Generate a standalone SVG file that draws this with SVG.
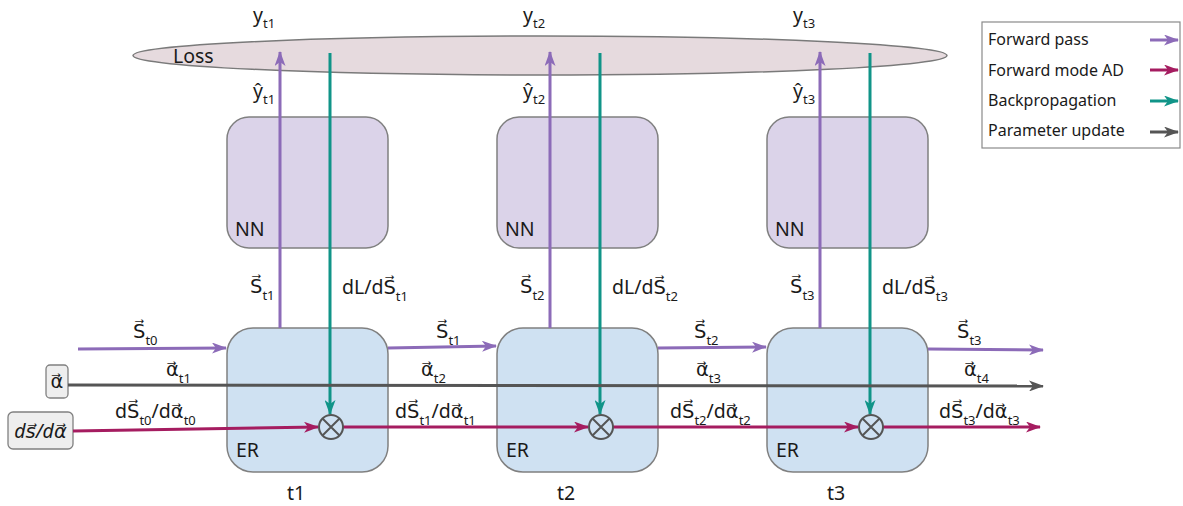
<svg xmlns="http://www.w3.org/2000/svg" width="1183" height="506" viewBox="0 0 1183 506">
<style>
text{font-family:"Noto Sans","DejaVu Sans",sans-serif;fill:#1a1a1a}
.lab{font-size:19.5px}
.sub{font-size:13px}
.leg{font-size:16px}
.nn{fill:#dbd3e9;stroke:#808080;stroke-width:1.5}
.er{fill:#cfe1f2;stroke:#808080;stroke-width:1.5}
.fp{stroke:#8c6bb8;stroke-width:3;fill:none;marker-end:url(#mp)}
.ad{stroke:#a51c60;stroke-width:3;fill:none;marker-end:url(#mm)}
.bp{stroke:#109488;stroke-width:3;fill:none;marker-end:url(#mt)}
.pu{stroke:#555555;stroke-width:3;fill:none;marker-end:url(#mg)}
.op{fill:none;stroke:#555555;stroke-width:2}
.inbox{fill:#eeeeee;stroke:#808080;stroke-width:1.3}
</style>
<defs>
<marker id="mp" markerUnits="userSpaceOnUse" viewBox="0 0 15 11" markerWidth="15" markerHeight="11" refX="14" refY="5.5" orient="auto"><path d="M0,0 L15,5.5 L0,11 L4,5.5 Z" fill="#8c6bb8"/></marker>
<marker id="mm" markerUnits="userSpaceOnUse" viewBox="0 0 15 11" markerWidth="15" markerHeight="11" refX="14" refY="5.5" orient="auto"><path d="M0,0 L15,5.5 L0,11 L4,5.5 Z" fill="#a51c60"/></marker>
<marker id="mt" markerUnits="userSpaceOnUse" viewBox="0 0 15 11" markerWidth="15" markerHeight="11" refX="14" refY="5.5" orient="auto"><path d="M0,0 L15,5.5 L0,11 L4,5.5 Z" fill="#109488"/></marker>
<marker id="mg" markerUnits="userSpaceOnUse" viewBox="0 0 15 11" markerWidth="15" markerHeight="11" refX="14" refY="5.5" orient="auto"><path d="M0,0 L15,5.5 L0,11 L4,5.5 Z" fill="#555555"/></marker>
</defs>
<rect width="1183" height="506" fill="#ffffff"/>

<g id="loss">
<ellipse cx="540" cy="55.5" rx="407" ry="19.5" fill="#e6dade" stroke="#7a7a7a" stroke-width="1.5"/>
<text class="lab" x="173" y="63">Loss</text>
</g>

<g id="nn1"><rect class="nn" x="227" y="117" width="161" height="131" rx="22"/><text class="lab" x="235" y="236">NN</text></g>
<g id="nn2"><rect class="nn" x="497" y="117" width="161" height="131" rx="22"/><text class="lab" x="505" y="236">NN</text></g>
<g id="nn3"><rect class="nn" x="767" y="117" width="161" height="131" rx="22"/><text class="lab" x="775" y="236">NN</text></g>

<g id="er1"><rect class="er" x="227" y="328" width="161" height="144" rx="26"/><text class="lab" x="236" y="457">ER</text></g>
<g id="er2"><rect class="er" x="497" y="328" width="161" height="144" rx="26"/><text class="lab" x="506" y="457">ER</text></g>
<g id="er3"><rect class="er" x="767" y="328" width="161" height="144" rx="26"/><text class="lab" x="776" y="457">ER</text></g>

<g id="alpha-in"><rect class="inbox" x="46" y="365" width="22" height="33" rx="4"/><text class="lab" x="57" y="388" text-anchor="middle">α&#x20D7;</text></g>
<g id="dsda-in"><rect class="inbox" x="8" y="412" width="65" height="37" rx="5"/><text class="lab" x="40.5" y="438" text-anchor="middle" font-style="italic">ds&#x20D7;/dα&#x20D7;</text></g>

<g id="connectors">
<line class="fp" x1="280" y1="328" x2="280" y2="52"/>
<line class="fp" x1="550" y1="328" x2="550" y2="52"/>
<line class="fp" x1="820" y1="328" x2="820" y2="52"/>
<line class="bp" x1="330" y1="53" x2="330" y2="414"/>
<line class="bp" x1="600" y1="53" x2="600" y2="414"/>
<line class="bp" x1="870" y1="53" x2="870" y2="414"/>
<line class="fp" x1="78" y1="349" x2="226" y2="348"/>
<line class="fp" x1="388" y1="348" x2="496" y2="346"/>
<line class="fp" x1="658" y1="348" x2="766" y2="347"/>
<line class="fp" x1="928" y1="349" x2="1043" y2="350"/>
<line class="pu" x1="68" y1="385" x2="1043" y2="386"/>
<line class="ad" x1="73" y1="431" x2="318" y2="427"/>
<line class="ad" x1="343" y1="427" x2="588" y2="427"/>
<line class="ad" x1="613" y1="427" x2="858" y2="427"/>
<line class="ad" x1="883" y1="427" x2="1040" y2="427"/>
<g><circle class="op" cx="331" cy="427" r="12"/><path class="op" d="M322.5,418.5 L339.5,435.5 M339.5,418.5 L322.5,435.5"/></g>
<g><circle class="op" cx="601" cy="427" r="12"/><path class="op" d="M592.5,418.5 L609.5,435.5 M609.5,418.5 L592.5,435.5"/></g>
<g><circle class="op" cx="871" cy="427" r="12"/><path class="op" d="M862.5,418.5 L879.5,435.5 M879.5,418.5 L862.5,435.5"/></g>
</g>

<g id="labels">
<text class="lab" x="253" y="22">y<tspan class="sub" dy="6">t1</tspan></text>
<text class="lab" x="523" y="22">y<tspan class="sub" dy="6">t2</tspan></text>
<text class="lab" x="793" y="22">y<tspan class="sub" dy="6">t3</tspan></text>
<text class="lab" x="253" y="98">ŷ<tspan class="sub" dy="6">t1</tspan></text>
<text class="lab" x="523" y="98">ŷ<tspan class="sub" dy="6">t2</tspan></text>
<text class="lab" x="793" y="98">ŷ<tspan class="sub" dy="6">t3</tspan></text>

<text class="lab" x="250" y="293">S&#x20D7;<tspan class="sub" dy="7">t1</tspan></text>
<text class="lab" x="520" y="293">S&#x20D7;<tspan class="sub" dy="7">t2</tspan></text>
<text class="lab" x="790" y="293">S&#x20D7;<tspan class="sub" dy="7">t3</tspan></text>
<text class="lab" x="342" y="294">dL/dS&#x20D7;<tspan class="sub" dy="7">t1</tspan></text>
<text class="lab" x="612" y="294">dL/dS&#x20D7;<tspan class="sub" dy="7">t2</tspan></text>
<text class="lab" x="882" y="294">dL/dS&#x20D7;<tspan class="sub" dy="7">t3</tspan></text>

<text class="lab" x="133" y="338">S&#x20D7;<tspan class="sub" dy="7">t0</tspan></text>
<text class="lab" x="436" y="338">S&#x20D7;<tspan class="sub" dy="7">t1</tspan></text>
<text class="lab" x="694" y="338">S&#x20D7;<tspan class="sub" dy="7">t2</tspan></text>
<text class="lab" x="957" y="338">S&#x20D7;<tspan class="sub" dy="7">t3</tspan></text>

<text class="lab" x="166" y="376">α&#x20D7;<tspan class="sub" dy="7">t1</tspan></text>
<text class="lab" x="421" y="376">α&#x20D7;<tspan class="sub" dy="7">t2</tspan></text>
<text class="lab" x="696" y="376">α&#x20D7;<tspan class="sub" dy="7">t3</tspan></text>
<text class="lab" x="964" y="376">α&#x20D7;<tspan class="sub" dy="7">t4</tspan></text>

<text class="lab" x="115" y="418">dS&#x20D7;<tspan class="sub" dy="7">t0</tspan><tspan dy="-7">/dα&#x20D7;</tspan><tspan class="sub" dy="7">t0</tspan></text>
<text class="lab" x="395" y="418">dS&#x20D7;<tspan class="sub" dy="7">t1</tspan><tspan dy="-7">/dα&#x20D7;</tspan><tspan class="sub" dy="7">t1</tspan></text>
<text class="lab" x="670" y="418">dS&#x20D7;<tspan class="sub" dy="7">t2</tspan><tspan dy="-7">/dα&#x20D7;</tspan><tspan class="sub" dy="7">t2</tspan></text>
<text class="lab" x="939" y="418">dS&#x20D7;<tspan class="sub" dy="7">t3</tspan><tspan dy="-7">/dα&#x20D7;</tspan><tspan class="sub" dy="7">t3</tspan></text>

<text class="lab" x="296" y="500" text-anchor="middle">t1</text>
<text class="lab" x="566" y="500" text-anchor="middle">t2</text>
<text class="lab" x="836" y="500" text-anchor="middle">t3</text>
</g>

<g id="legend">
<rect x="982" y="22" width="198" height="126" fill="#ffffff" stroke="#8a8a8a" stroke-width="1.2"/>
<text class="leg" x="988" y="45">Forward pass</text>
<text class="leg" x="988" y="76">Forward mode AD</text>
<text class="leg" x="988" y="106">Backpropagation</text>
<text class="leg" x="988" y="136">Parameter update</text>
<line class="fp" x1="1150" y1="40" x2="1178" y2="40"/>
<line class="ad" x1="1150" y1="70" x2="1178" y2="70"/>
<line class="bp" x1="1150" y1="101" x2="1178" y2="101"/>
<line class="pu" x1="1150" y1="132" x2="1178" y2="132"/>
</g>
</svg>
